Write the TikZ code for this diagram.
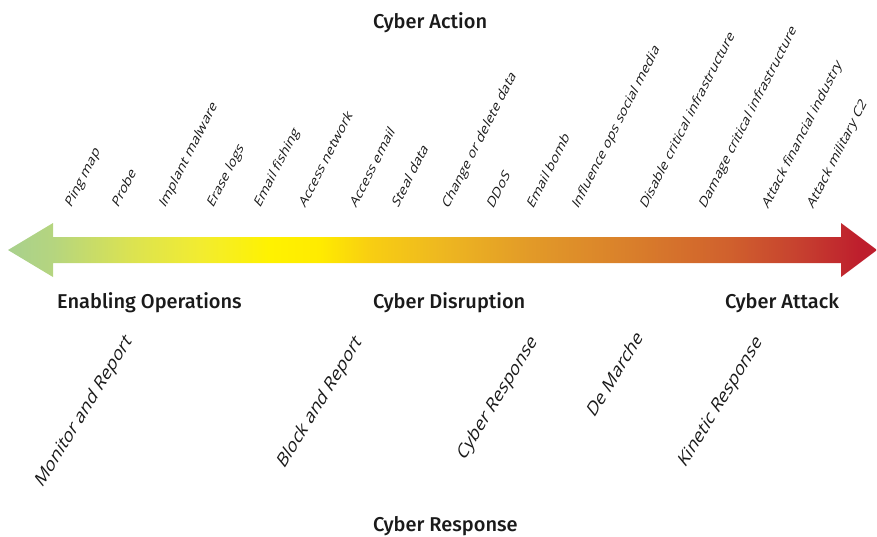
\documentclass[tikz,border=0pt]{standalone}
\usepackage{fontspec}
\setmainfont{Open Sans}
\newfontfamily\hdrfont{Fira Sans}[UprightFont={* Medium}]
\definecolor{cA}{HTML}{A8D08D}
\definecolor{cB}{HTML}{B5D57F}
\definecolor{cC}{HTML}{DCE350}
\definecolor{cD}{HTML}{F2EC30}
\definecolor{cE}{HTML}{FFF200}
\definecolor{cF}{HTML}{FFEB00}
\definecolor{cG}{HTML}{F8CE12}
\definecolor{cH}{HTML}{EEB820}
\definecolor{cI}{HTML}{E29A28}
\definecolor{cJ}{HTML}{D97F2B}
\definecolor{cK}{HTML}{D0602D}
\definecolor{cL}{HTML}{C6402F}
\definecolor{cM}{HTML}{BE1E2D}
\definecolor{txt}{HTML}{1A1A1A}
\pgfdeclarehorizontalshading{spectrum}{100bp}{%
  color(0bp)=(cA); color(25bp)=(cA); color(27.59bp)=(cB); color(32.19bp)=(cC);
  color(36.05bp)=(cD); color(40.07bp)=(cE); color(42.95bp)=(cF); color(45.83bp)=(cG);
  color(49.86bp)=(cH); color(55.03bp)=(cI); color(60.79bp)=(cJ); color(66.54bp)=(cK);
  color(70.57bp)=(cL); color(74.02bp)=(cM); color(75bp)=(cM); color(100bp)=(cM)}
\begin{document}
\begin{tikzpicture}[x=1pt,y=-1pt,
  header/.style={anchor=base west,inner sep=0pt,text=txt,font=\hdrfont\fontsize{20}{24}\selectfont},
  action/.style={anchor=base west,inner sep=0pt,cm={0.581,1.140,-0.814,0.813,(0,0)},text=txt,font=\fontsize{11.4}{13}\selectfont},
  response/.style={anchor=base west,inner sep=0pt,cm={0.651,1.063,-0.759,0.912,(0,0)},text=txt,font=\fontsize{15}{18}\selectfont}]
\useasboundingbox (0,0) rectangle (877,536);
% spectrum arrow
\shade[shading=spectrum] (8,250) -- (53,223) -- (53,237) -- (841,237) -- (841,223)
  -- (877,250) -- (841,277) -- (841,263) -- (53,263) -- (53,277) -- cycle;
% headers
\node[header] (hAction) at (373,28) {Cyber Action};
\node[header] (hEnabling) at (57,308) {Enabling Operations};
\node[header] (hDisruption) at (373,308) {Cyber Disruption};
\node[header] (hAttack) at (725,308) {Cyber Attack};
\node[header] (hResponse) at (373,531) {Cyber Response};
% actions
\node[action] (a1) at (71,209) {Ping map};
\node[action] (a2) at (118,209) {Probe};
\node[action] (a3) at (165,209) {Implant malware};
\node[action] (a4) at (213,209) {Erase logs};
\node[action] (a5) at (260,209) {Email fishing};
\node[action] (a6) at (305,209) {Access network};
\node[action] (a7) at (356,209) {Access email};
\node[action] (a8) at (398,209) {Steal data};
\node[action] (a9) at (448,210) {Change or delete data};
\node[action] (a10) at (493,210) {DDoS};
\node[action] (a11) at (533,210) {Email bomb};
\node[action] (a12) at (578,210) {Influence ops social media};
\node[action] (a13) at (646,210) {Disable critical infrastructure};
\node[action] (a14) at (705,210) {Damage critical infrastructure};
\node[action] (a15) at (768,210) {Attack financial industry};
\node[action] (a16) at (813,210) {Attack military C2};
% responses
\node[response] (r1) at (42,489) {Monitor and Report};
\node[response] (r2) at (284,470) {Block and Report};
\node[response] (r3) at (464,462) {Cyber Response};
\node[response] (r4) at (594,419) {De Marche};
\node[response] (r5) at (685,469) {Kinetic Response};
\end{tikzpicture}
\end{document}
